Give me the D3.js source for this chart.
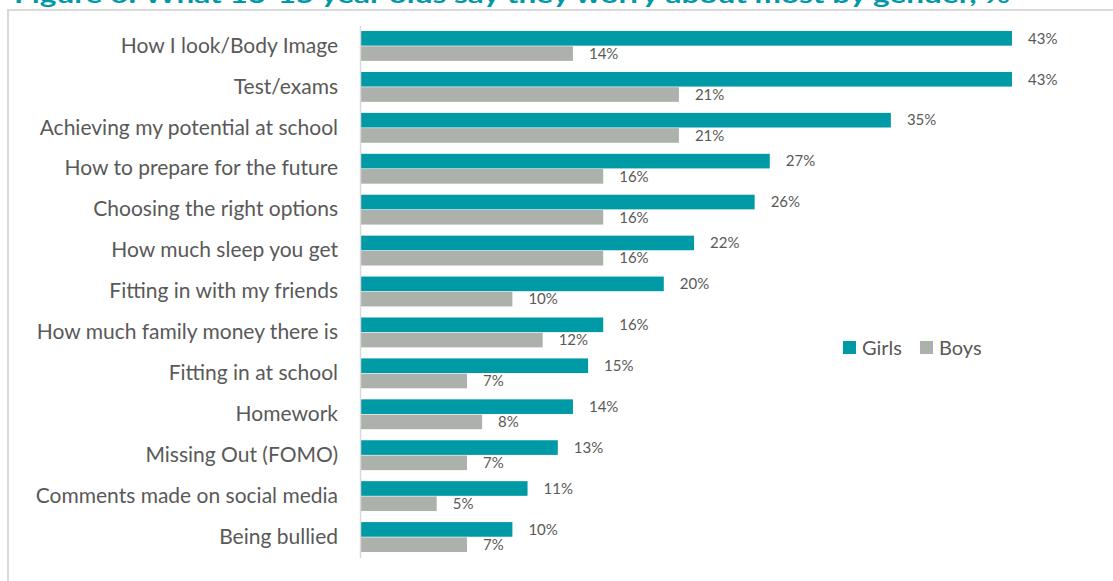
<!DOCTYPE html>
<html>
<head>
<meta charset="utf-8">
<script src="https://cdn.jsdelivr.net/npm/d3@7"></script>
<style>
  html, body { margin: 0; padding: 0; background: #ffffff; }
  svg { display: block; }
</style>
</head>
<body>
<svg id="chart" width="1113" height="581"></svg>
<script>
// Worries reported by 13-15 year olds, split by gender (%)
const categories = [
  "How I look/Body Image",
  "Test/exams",
  "Achieving my potential at school",
  "How to prepare for the future",
  "Choosing the right options",
  "How much sleep you get",
  "Fitting in with my friends",
  "How much family money there is",
  "Fitting in at school",
  "Homework",
  "Missing Out (FOMO)",
  "Comments made on social media",
  "Being bullied"
];
const girls = [43, 43, 35, 27, 26, 22, 20, 16, 15, 14, 13, 11, 10];
const boys  = [14, 21, 21, 16, 16, 16, 10, 12, 7, 8, 7, 5, 7];
const seriesNames = ["Girls", "Boys"];
const seriesColors = ["#0099a6", "#adb1ab"];
const titleText = "Figure 6: What 13-15 year olds say they worry about most by gender, %";

const svg = d3.select("#chart");
const font = "Lato, 'Open Sans', sans-serif";
const textColor = "#595959";

// Title, mostly above the visible area
svg.append("text")
  .attr("x", 14).attr("y", 3)
  .attr("fill", "#0099a6")
  .attr("font-family", font)
  .attr("font-weight", "bold")
  .attr("font-size", 22)
  .attr("textLength", 996)
  .attr("lengthAdjust", "spacingAndGlyphs")
  .text(titleText);

// Chart frame
svg.append("rect")
  .attr("x", 8).attr("y", 10)
  .attr("width", 1200).attr("height", 700)
  .attr("fill", "none")
  .attr("stroke", "#d9d9d9")
  .attr("stroke-width", 2);

const x = d3.scaleLinear().domain([0, 43]).range([361, 1012]);
const y = d3.scaleBand().domain(categories).range([25.5, 557.5]).paddingInner(0.27).paddingOuter(0.135);
const sub = d3.scaleBand().domain(seriesNames).range([0, y.bandwidth()]).paddingInner(0.04);

const rows = categories.map((c, i) => ({ cat: c, values: [girls[i], boys[i]] }));

const g = svg.append("g");
const grp = g.selectAll("g.row").data(rows).join("g")
  .attr("class", "row")
  .attr("transform", d => `translate(0,${y(d.cat)})`);

grp.selectAll("rect").data(d => d.values.map((v, k) => ({ v, s: seriesNames[k], k })))
  .join("rect")
  .attr("x", x(0))
  .attr("y", d => sub(d.s))
  .attr("width", d => x(d.v) - x(0))
  .attr("height", sub.bandwidth())
  .attr("fill", d => seriesColors[d.k]);

grp.selectAll("text.val").data(d => d.values.map((v, k) => ({ v, s: seriesNames[k], k })))
  .join("text")
  .attr("class", "val")
  .attr("x", d => x(d.v) + 16)
  .attr("y", d => sub(d.s) + sub.bandwidth() / 2)
  .attr("dy", "0.35em")
  .attr("fill", textColor)
  .attr("font-family", font)
  .attr("font-size", 15)
  .text(d => d.v + "%");

// Category axis
const axis = d3.axisLeft(y).tickSize(0).tickPadding(22);
const ax = svg.append("g").attr("transform", `translate(${x(0) - 1},0)`).call(axis);
ax.select(".domain").attr("stroke", "#d9d9d9").attr("stroke-width", 1.5);
ax.selectAll("text")
  .attr("fill", textColor)
  .attr("font-family", font)
  .attr("font-size", 21);

// Legend
const legend = svg.append("g").attr("transform", "translate(843,341)");
const legendX = [0, 77];
seriesNames.forEach((name, i) => {
  const item = legend.append("g").attr("transform", `translate(${legendX[i]},0)`);
  item.append("rect").attr("width", 13).attr("height", 13).attr("fill", seriesColors[i]);
  item.append("text")
    .attr("x", 19).attr("y", 6.5).attr("dy", "0.35em")
    .attr("fill", textColor)
    .attr("font-family", font)
    .attr("font-size", 20)
    .text(name);
});
</script>
</body>
</html>
